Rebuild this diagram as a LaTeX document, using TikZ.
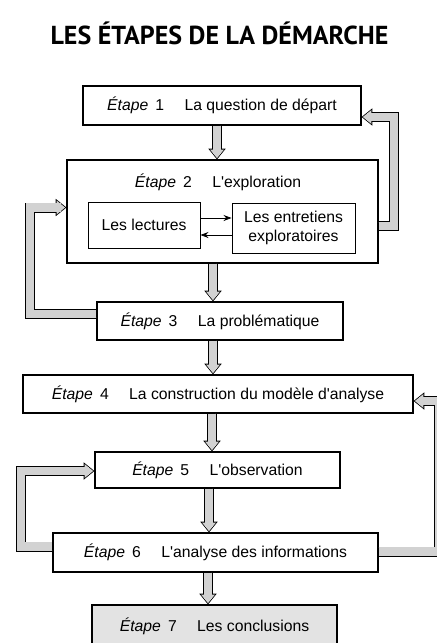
\documentclass[tikz,border=0pt]{standalone}
\usepackage{fontspec}
\setmainfont{Liberation Sans}
\newfontfamily\titlefont{PT Sans}
\usetikzlibrary{arrows.meta, positioning}
\colorlet{speck}{gray!35}

\newcommand{\etape}[2]{\textit{Étape}\hspace{0.45em}#1\hspace{1.3em}#2}

\begin{document}
\begin{tikzpicture}[
    x=0.75pt, y=-0.75pt,
    % Styles
    stepbox/.style 2 args={draw, line width=0.9pt, fill=white, inner sep=0pt,
      minimum width=#1*0.75pt, minimum height=#2*0.75pt, font=\fontsize{11.8}{14}\selectfont},
    subbox/.style 2 args={stepbox={#1}{#2}, line width=0.7pt, align=center, font=\fontsize{11.8}{14.5}\selectfont},
    flow/.style={
      preaction={draw=black, line width=7.5pt, shorten >=0pt,
        -{Triangle[width=13pt 0 1, length=8pt 0 1, line width=0pt]}},
      draw=speck, line width=6.1pt, shorten >=0.95pt,
      -{Triangle[width=10.5pt 0 1, length=6.45pt 0 1, line width=0pt]},
      postaction={draw=speck, line width=6.1pt, shorten >=4pt, -}},
    link/.style={line width=0.6pt, -{Stealth[length=6pt, width=4.5pt]}},
  ]
  \useasboundingbox (0,0) rectangle (436,643);

  % 1) Title
  \node[font=\titlefont\bfseries\fontsize{19.5}{22}\selectfont, anchor=base] (title) at (219.5,44)
  {LES ÉTAPES DE LA DÉMARCHE};

  % 2) Steps
  \node[stepbox={278}{39}] (b1) at (222,105.5) {\etape{1}{La question de départ}};
  \node[stepbox={311}{103}] (b2) at (222.5,211.5) {};
  \node[font=\fontsize{11.8}{14}\selectfont] (t2) at (218,182) {\etape{2}{L\textquotesingle exploration}};
  \node[subbox={112}{46}] (lect) at (144,225) {Les lectures};
  \node[subbox={123}{50}] (entr) at (293.5,228) {Les entretiens\\exploratoires};
  \node[stepbox={246}{38}] (b3) at (220,321) {\etape{3}{La problématique}};
  \node[stepbox={390}{38}] (b4) at (218,394) {\etape{4}{La construction du modèle d\textquotesingle analyse}};
  \node[stepbox={245}{36}] (b5) at (217.5,470) {\etape{5}{L\textquotesingle observation}};
  \node[stepbox={325}{39}] (b6) at (215.5,552.5) {\etape{6}{L\textquotesingle analyse des informations}};
  \node[stepbox={245}{42}, fill=gray!22] (b7) at (214.5,626) {\etape{7}{Les conclusions}};

  % 3) Exploration exchanges
  \draw[link] (lect.east |- 0,218) -- (entr.west |- 0,218);
  \draw[link] (entr.west |- 0,235) -- (lect.east |- 0,235);

  % 4) Main sequence
  \draw[flow] (b1.south -| 217,0) -- (b2.north -| 217,0);
  \draw[flow] (b2.south -| 213,0) -- (b3.north -| 213,0);
  \draw[flow] (b3.south -| 213,0) -- (b4.north -| 213,0);
  \draw[flow] (b4.south -| 212,0) -- (b5.north -| 212,0);
  \draw[flow] (b5.south -| 209,0) -- (b6.north -| 209,0);
  \draw[flow] (b6.south -| 208,0) -- (b7.north -| 208,0);

  % 5) Feedback loops
  \draw[flow] (b2.east |- 0,226) -- (394,226) -- (394,117) -- (b1.east |- 0,117);
  \draw[flow] (b3.west |- 0,314) -- (30,314) -- (30,207.5) -- (b2.west |- 0,207.5);
  \draw[flow] (b6.east |- 0,551.5) -- (439,551.5) -- (439,401) -- (b4.east |- 0,401);
  \draw[flow] (b6.west |- 0,546.5) -- (21,546.5) -- (21,471) -- (b5.west |- 0,471);
\end{tikzpicture}
\end{document}
